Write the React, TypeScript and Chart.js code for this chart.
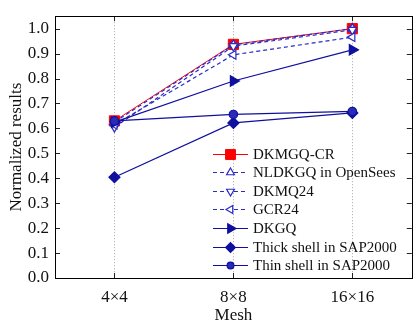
import { useEffect, useRef } from 'react';
import { Chart, registerables } from 'chart.js';
import { drawPoint } from 'chart.js/helpers';

Chart.register(...registerables);

// Mesh refinement levels on the x axis
const meshes = ['4×4', '8×8', '16×16'];

// Normalized results per element formulation
const dkmgqCR = [0.63, 0.937, 1.0];
const nldkgqOpenSees = [0.625, 0.935, 1.0];
const dkmq24 = [0.605, 0.93, 0.995];
const gcr24 = [0.615, 0.895, 0.966];
const dkgq = [0.625, 0.79, 0.915];
const thickShellSAP = [0.404, 0.622, 0.662];
const thinShellSAP = [0.63, 0.656, 0.668];

const yTickValues = [0, 0.1, 0.2, 0.3, 0.4, 0.5, 0.6, 0.7, 0.8, 0.9, 1.0];

const SERIF = "'Liberation Serif', 'DejaVu Serif', serif";
const NAVY = '#10109e';
const DASH_BLUE = '#2a2ac4';
const RED = '#ff0000';

const frame = {
  id: 'frame',
  beforeDatasetsDraw(chart: any) {
    const { ctx, chartArea: a, scales } = chart;
    const xs = scales.x;
    ctx.save();
    // dotted guides at each mesh
    ctx.strokeStyle = '#a8a8a8';
    ctx.lineWidth = 1;
    ctx.setLineDash([1, 2]);
    meshes.forEach((_, i) => {
      const px = Math.round(xs.getPixelForValue(i)) + 0.5;
      ctx.beginPath();
      ctx.moveTo(px, a.top);
      ctx.lineTo(px, a.bottom);
      ctx.stroke();
    });
    ctx.restore();
  },
  afterDatasetsDraw(chart: any) {
    const { ctx, chartArea: a, scales } = chart;
    const xs = scales.x;
    const ys = scales.y;
    ctx.save();
    ctx.setLineDash([]);
    ctx.strokeStyle = '#222';
    ctx.lineWidth = 1;
    const tl = 5;
    // inward ticks
    yTickValues.forEach((v) => {
      const py = Math.round(ys.getPixelForValue(v)) + 0.5;
      ctx.beginPath();
      ctx.moveTo(a.left, py);
      ctx.lineTo(a.left + tl, py);
      ctx.moveTo(a.right, py);
      ctx.lineTo(a.right - tl, py);
      ctx.stroke();
    });
    meshes.forEach((_, i) => {
      const px = Math.round(xs.getPixelForValue(i)) + 0.5;
      ctx.beginPath();
      ctx.moveTo(px, a.top);
      ctx.lineTo(px, a.top + tl);
      ctx.moveTo(px, a.bottom);
      ctx.lineTo(px, a.bottom - tl);
      ctx.stroke();
    });
    // plot box
    ctx.strokeStyle = '#000';
    ctx.strokeRect(Math.round(a.left) + 0.5, Math.round(a.top) + 0.5, Math.round(a.right - a.left), Math.round(a.bottom - a.top));
    ctx.restore();
  },
};

const lineLegend = {
  id: 'lineLegend',
  afterDraw(chart: any) {
    const { ctx } = chart;
    const x0 = 213;
    const x1 = 248;
    const xm = 230.5;
    const tx = 253;
    const y0 = 153.5;
    const dy = 18.6;
    ctx.save();
    ctx.font = `15px ${SERIF}`;
    ctx.textBaseline = 'middle';
    ctx.textAlign = 'left';
    chart.data.datasets.forEach((ds: any, i: number) => {
      const y = Math.round(y0 + i * dy) + 0.5;
      ctx.save();
      ctx.strokeStyle = ds.borderColor;
      ctx.lineWidth = ds.borderWidth;
      ctx.setLineDash(ds.borderDash || []);
      ctx.beginPath();
      ctx.moveTo(x0, y);
      ctx.lineTo(x1, y);
      ctx.stroke();
      ctx.restore();
      ctx.save();
      ctx.setLineDash([]);
      ctx.fillStyle = ds.pointBackgroundColor;
      ctx.strokeStyle = ds.pointBorderColor;
      ctx.lineWidth = ds.pointBorderWidth;
      drawPoint(ctx, { pointStyle: ds.pointStyle, rotation: ds.pointRotation || 0, radius: ds.legendRadius, borderWidth: ds.pointBorderWidth }, xm, y);
      ctx.restore();
      ctx.fillStyle = '#111';
      ctx.fillText(ds.label, tx, y + 1);
    });
    ctx.restore();
  },
};

function series(label: string, data: number[], opts: any) {
  return {
    label,
    data,
    borderWidth: 1.2,
    pointBorderWidth: 1.2,
    tension: 0,
    ...opts,
  };
}

export default function App() {
  const ref = useRef<HTMLCanvasElement | null>(null);

  useEffect(() => {
    if (!ref.current) return;
    const chart = new Chart(ref.current, {
      type: 'line',
      data: {
        labels: meshes,
        datasets: [
          series('DKMGQ-CR', dkmgqCR, {
            borderColor: RED, borderWidth: 1, pointStyle: 'rect', pointRadius: 7.2, legendRadius: 7,
            pointBackgroundColor: RED, pointBorderColor: RED, pointBorderWidth: 1, order: 7,
          }),
          series('NLDKGQ in OpenSees', nldkgqOpenSees, {
            borderColor: DASH_BLUE, borderDash: [4, 3], pointStyle: 'triangle', pointRotation: 0,
            pointRadius: 5, legendRadius: 4.5, pointBackgroundColor: '#ffffff', pointBorderColor: DASH_BLUE, order: 6,
          }),
          series('DKMQ24', dkmq24, {
            borderColor: DASH_BLUE, borderDash: [4, 3], pointStyle: 'triangle', pointRotation: 180,
            pointRadius: 5, legendRadius: 4.5, pointBackgroundColor: '#ffffff', pointBorderColor: DASH_BLUE, order: 5,
          }),
          series('GCR24', gcr24, {
            borderColor: DASH_BLUE, borderDash: [4, 3], pointStyle: 'triangle', pointRotation: 270,
            pointRadius: 5, legendRadius: 4.5, pointBackgroundColor: '#ffffff', pointBorderColor: DASH_BLUE, order: 4,
          }),
          series('DKGQ', dkgq, {
            borderColor: NAVY, pointStyle: 'triangle', pointRotation: 90,
            pointRadius: 6, legendRadius: 5.5, pointBackgroundColor: NAVY, pointBorderColor: NAVY, order: 3,
          }),
          series('Thick shell in SAP2000', thickShellSAP, {
            borderColor: NAVY, pointStyle: 'rectRot',
            pointRadius: 5.5, legendRadius: 4.8, pointBackgroundColor: NAVY, pointBorderColor: NAVY, order: 2,
          }),
          series('Thin shell in SAP2000', thinShellSAP, {
            borderColor: NAVY, pointStyle: 'circle',
            pointRadius: 4.2, legendRadius: 3.4, pointBackgroundColor: '#2a2ab8', pointBorderColor: NAVY, order: 1,
          }),
        ],
      },
      options: {
        responsive: false,
        animation: false,
        devicePixelRatio: 1,
        layout: { padding: { top: 8, right: 4, left: 0, bottom: 0 } },
        plugins: {
          legend: { display: false },
          tooltip: { enabled: false },
        },
        scales: {
          x: {
            type: 'category',
            offset: true,
            grid: { display: false, drawTicks: false },
            border: { display: false },
            ticks: { color: '#111', font: { family: SERIF, size: 17 }, padding: 9, maxRotation: 0 },
            title: { display: true, text: 'Mesh', color: '#111', font: { family: SERIF, size: 17 }, padding: { top: 0, bottom: -2 } },
            afterFit: (s: any) => { s.height = 46; },
          },
          y: {
            min: 0,
            max: 1.05,
            grid: { display: false, drawTicks: false },
            border: { display: false },
            ticks: {
              stepSize: 0.1,
              color: '#111',
              font: { family: SERIF, size: 17 },
              padding: 6,
              callback: (v: any) => Number(v).toFixed(1),
            },
            afterBuildTicks: (s: any) => {
              s.ticks = yTickValues.map((v) => ({ value: v }));
            },
            title: { display: true, text: 'Normalized results', color: '#111', font: { family: SERIF, size: 17 }, padding: { top: 6, bottom: 0 } },
            afterFit: (s: any) => { s.width = 55; },
          },
        },
      },
      plugins: [frame, lineLegend],
    } as any);
    return () => chart.destroy();
  }, []);

  return (
    <div style={{ position: 'fixed', left: 0, top: 0, width: 415, height: 324, overflow: 'hidden', background: '#fff' }}>
      <canvas ref={ref} width={420} height={324} style={{ display: 'block', width: 420, height: 324 }} />
    </div>
  );
}
